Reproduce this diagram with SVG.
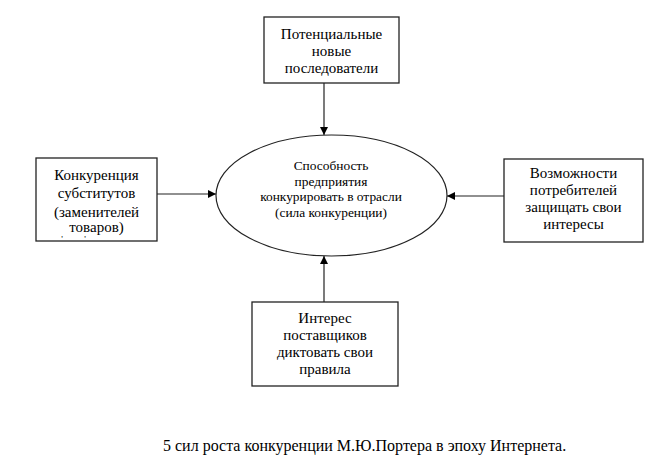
<svg xmlns="http://www.w3.org/2000/svg" width="669" height="460" viewBox="0 0 669 460">
<style>
.box{fill:#fff;stroke:#222;stroke-width:1.3}
.t{font-family:"Liberation Serif","Times New Roman",serif;font-size:15px;fill:#000;text-anchor:middle}
.e{font-family:"Liberation Serif","Times New Roman",serif;font-size:13.4px;fill:#000;text-anchor:middle}
.c{stroke:#222;stroke-width:1.2;fill:none}
</style>
<defs>
<marker id="ah" viewBox="0 0 10 10" refX="10" refY="5" markerWidth="8" markerHeight="8" markerUnits="userSpaceOnUse" orient="auto">
<path d="M0,0 L10,5 L0,10 z" fill="#000"/>
</marker>
</defs>
<rect width="669" height="460" fill="#fff"/>
<g id="connectors">
<line class="c" x1="324" y1="83" x2="324" y2="135" marker-end="url(#ah)"/>
<line class="c" x1="157" y1="194" x2="216" y2="194" marker-end="url(#ah)"/>
<line class="c" x1="504" y1="196" x2="447" y2="196" marker-end="url(#ah)"/>
<line class="c" x1="324" y1="302" x2="324" y2="256" marker-end="url(#ah)"/>
</g>
<g id="center">
<ellipse cx="331.5" cy="195.5" rx="115.5" ry="60.5" fill="#fff" stroke="#222" stroke-width="1.2"/>
<text class="e" x="331" y="169.5">Способность</text>
<text class="e" x="331" y="186">предприятия</text>
<text class="e" x="331" y="200.5">конкурировать в отрасли</text>
<text class="e" x="331" y="216.5">(сила конкуренции)</text>
</g>
<g id="top">
<rect class="box" x="264" y="17" width="135" height="66"/>
<text class="t" x="331.5" y="38.5">Потенциальные</text>
<text class="t" x="331.5" y="55.5">новые</text>
<text class="t" x="331.5" y="72.5">последователи</text>
</g>
<g id="left">
<rect class="box" x="36" y="158" width="121" height="83"/>
<text class="t" x="96.5" y="179.5">Конкуренция</text>
<text class="t" x="96.5" y="197.5">субститутов</text>
<text class="t" x="96.5" y="216.5">(заменителей</text>
<text class="t" x="96.5" y="231.5">товаров)</text>
<text class="t" x="62" y="242" style="font-size:9px">'</text>
<text class="t" x="85" y="242" style="font-size:9px">'</text>
</g>
<g id="right">
<rect class="box" x="504" y="159" width="139" height="83"/>
<text class="t" x="573.5" y="177.5">Возможности</text>
<text class="t" x="573.5" y="194.5">потребителей</text>
<text class="t" x="573.5" y="211.5">защищать свои</text>
<text class="t" x="573.5" y="228.5">интересы</text>
</g>
<g id="bottom">
<rect class="box" x="252" y="302" width="146" height="84"/>
<text class="t" x="325" y="322.5">Интерес</text>
<text class="t" x="325" y="339.5">поставщиков</text>
<text class="t" x="325" y="356.5">диктовать свои</text>
<text class="t" x="325" y="373.5">правила</text>
</g>
<text x="163" y="450.5" style="font-family:'Liberation Serif','Times New Roman',serif;font-size:16px;fill:#000">5 сил роста конкуренции М.Ю.Портера в эпоху Интернета.</text>
</svg>
